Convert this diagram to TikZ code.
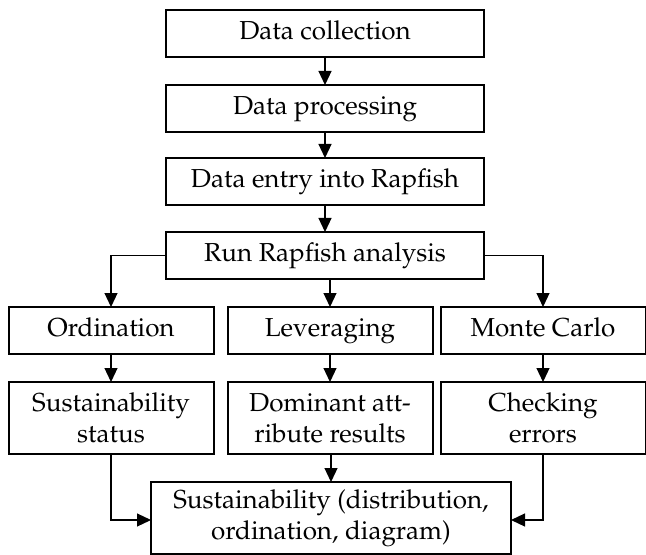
\documentclass[tikz,border=0pt]{standalone}
\usepackage[T1]{fontenc}
\usepackage{mathpazo}
\usepackage{tikz}
\usetikzlibrary{arrows.meta,positioning,calc}

\begin{document}
\begin{tikzpicture}[
  font=\fontsize{13}{15.5}\selectfont,
  stepbox/.style={draw=black, line width=1pt, fill=white, align=center,
    minimum width=159pt, minimum height=23.5pt, inner sep=2pt, outer sep=0pt},
  oneline/.style={text height=9pt, text depth=3pt},
  colbox/.style={stepbox, oneline, minimum width=102.5pt},
  tallbox/.style={stepbox, minimum width=102.5pt, minimum height=36pt},
  flow/.style={-{Triangle[length=7pt,width=6.5pt]}, line width=0.6pt, draw=black}
]
  \useasboundingbox[fill=white] (0,0) rectangle (323pt,-277.5pt);

  \node[stepbox, oneline] (collect) at (162.5pt,-16.75pt) {Data collection};
  \node[stepbox, oneline, below=14pt of collect] (process) {Data processing};
  \node[stepbox, oneline, below=13pt of process] (entry) {Data entry into Rapfish};
  \node[stepbox, oneline, below=13.5pt of entry] (run) {Run Rapfish analysis};

  \node[colbox, below=14pt of run, xshift=-107pt] (ord) {Ordination};
  \node[colbox, below=14pt of run, xshift=2.5pt] (lev) {Leveraging};
  \node[colbox, below=14pt of run, xshift=109pt] (mc) {Monte Carlo};

  \node[tallbox, below=14pt of ord] (status) {Sustainability\\status};
  \node[tallbox, below=14pt of lev] (dom) {Dominant att-\\ribute results};
  \node[tallbox, below=14pt of mc] (check) {Checking\\errors};

  \node[stepbox, minimum width=180pt, minimum height=36pt,
    below=14pt of dom, xshift=0.5pt] (final)
    {Sustainability (distribution,\\ordination, diagram)};

  \draw[flow] (collect) -- (process);
  \draw[flow] (process) -- (entry);
  \draw[flow] (entry) -- (run);
  \draw[flow] (run.west) -| (ord.north);
  \draw[flow] (run.south -| lev.north) -- (lev.north);
  \draw[flow] (run.east) -| (mc.north);
  \draw[flow] (ord) -- (status);
  \draw[flow] (lev) -- (dom);
  \draw[flow] (mc) -- (check);
  \draw[flow] (status.south) |- ($(final.west)+(0,-1pt)$);
  \draw[flow] (dom.south -| final.north) -- (final.north);
  \draw[flow] (check.south) |- ($(final.east)+(0,-1pt)$);
\end{tikzpicture}
\end{document}
